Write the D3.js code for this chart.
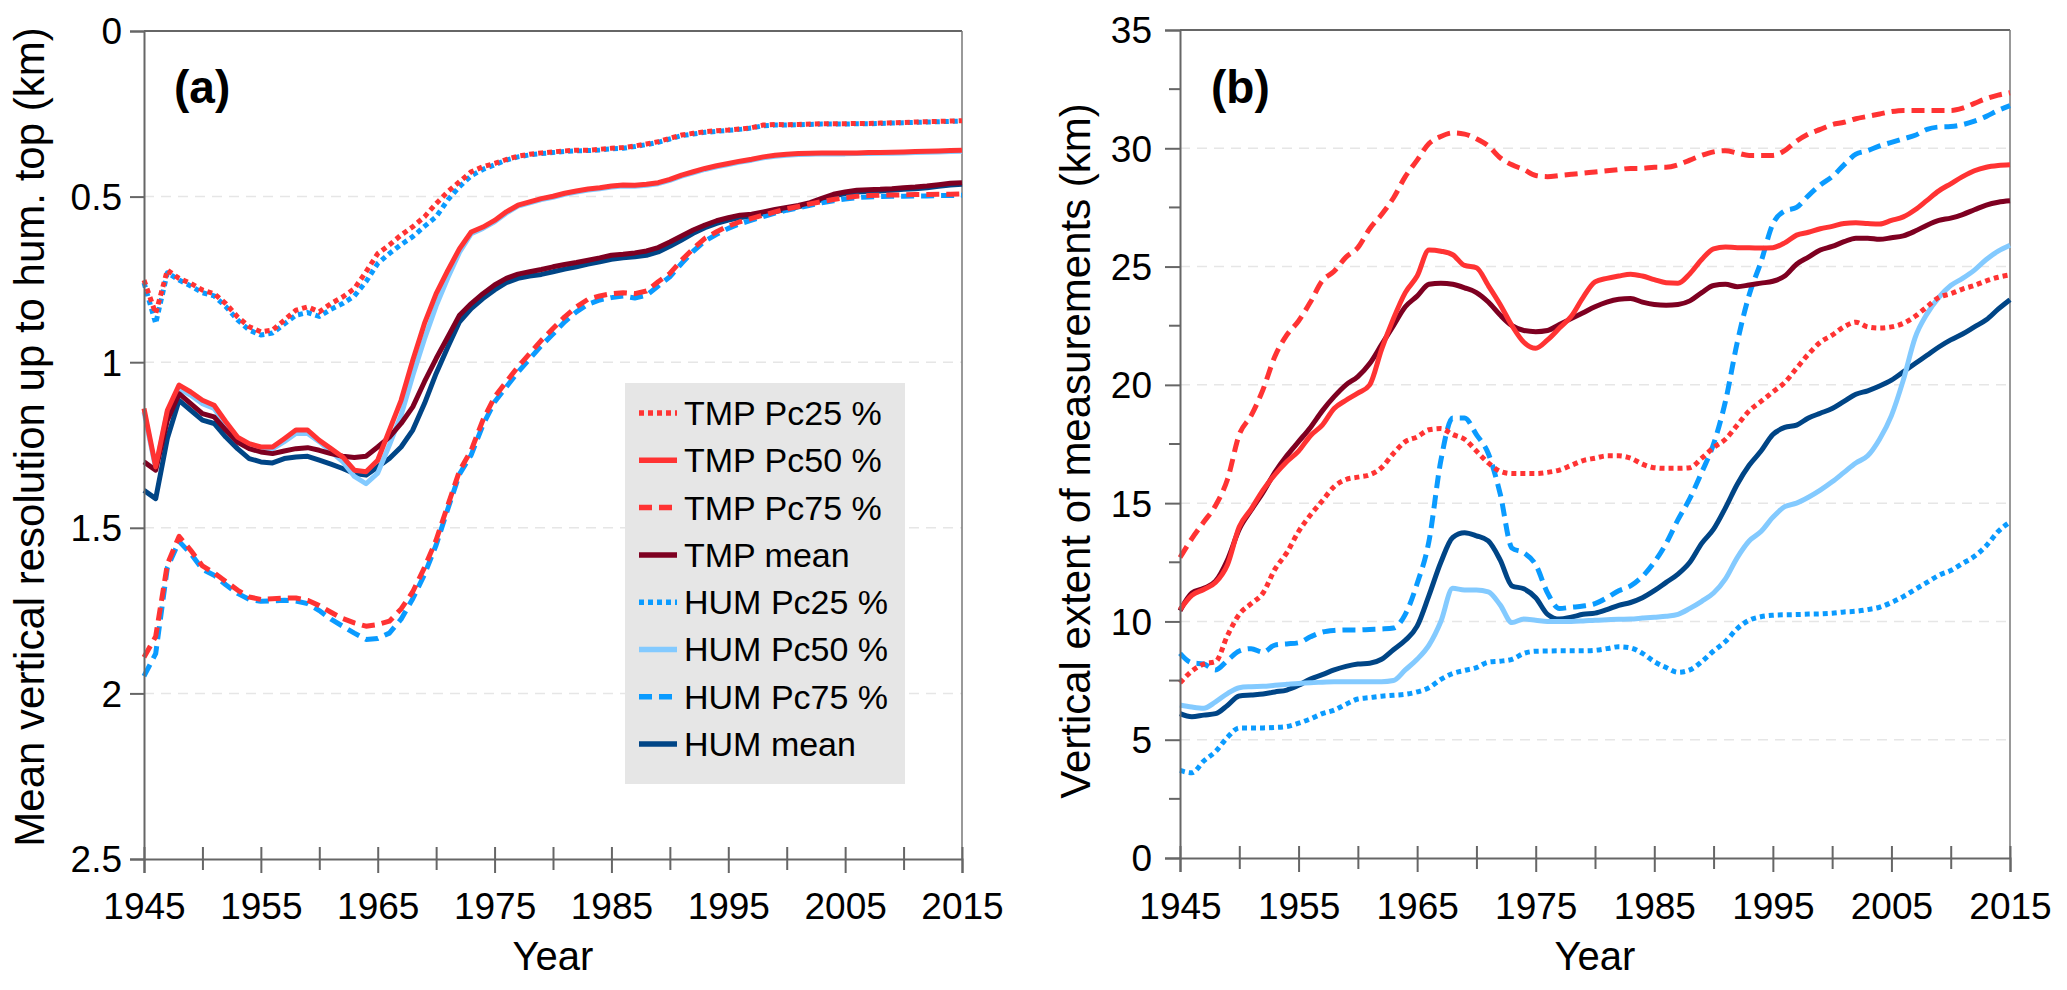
<!DOCTYPE html>
<html><head><meta charset="utf-8">
<script src="https://cdn.jsdelivr.net/npm/d3@7/dist/d3.min.js"></script>
<style>
body{margin:0;background:#fff}
text{font-family:"Liberation Sans",Arial,Helvetica,sans-serif;fill:#000}
</style>
</head><body>
<svg id="c" width="2067" height="990"></svg>
<script>
// ---------- DATA ----------
const years = d3.range(1945, 2016);
const xTickYears = [1945,1950,1955,1960,1965,1970,1975,1980,1985,1990,1995,2000,2005,2010,2015];
const xLabelYears = [1945,1955,1965,1975,1985,1995,2005,2015];
const yTicksA = [0,0.5,1,1.5,2,2.5];
const yTicksB = [0,5,10,15,20,25,30,35];
const yMinorB = [2.5,7.5,12.5,17.5,22.5,27.5,32.5];

const seriesNames = ["TMP Pc25 %","TMP Pc50 %","TMP Pc75 %","TMP mean","HUM Pc25 %","HUM Pc50 %","HUM Pc75 %","HUM mean"];

// Panel (a): mean vertical resolution (km)
const aTmpPc25 = [0.752,0.853,0.722,0.747,0.762,0.782,0.793,0.823,0.863,0.893,
 0.908,0.903,0.873,0.843,0.833,0.848,0.823,0.803,0.778,0.727,
 0.672,0.646,0.616,0.591,0.561,0.521,0.485,0.455,0.425,0.410,
 0.400,0.388,0.378,0.372,0.368,0.365,0.362,0.360,0.360,0.357,
 0.354,0.352,0.347,0.341,0.334,0.324,0.314,0.309,0.304,0.301,
 0.299,0.296,0.292,0.284,0.282,0.283,0.282,0.281,0.280,0.280,
 0.280,0.279,0.279,0.278,0.277,0.276,0.275,0.274,0.273,0.272,0.271];
const aTmpPc50 = [1.140,1.316,1.145,1.069,1.090,1.115,1.130,1.180,1.226,1.246,
 1.256,1.256,1.231,1.205,1.205,1.236,1.261,1.286,1.326,1.331,
 1.296,1.205,1.115,0.994,0.883,0.793,0.723,0.657,0.607,0.592,
 0.572,0.546,0.526,0.516,0.506,0.499,0.490,0.483,0.477,0.473,
 0.468,0.465,0.466,0.463,0.458,0.448,0.435,0.425,0.415,0.407,
 0.400,0.393,0.387,0.380,0.375,0.372,0.370,0.369,0.368,0.368,
 0.368,0.368,0.367,0.367,0.366,0.365,0.364,0.363,0.362,0.361,0.360];
const aTmpPc75 = [1.891,1.828,1.610,1.526,1.568,1.615,1.636,1.662,1.688,1.709,
 1.716,1.714,1.712,1.712,1.719,1.735,1.755,1.774,1.787,1.797,
 1.792,1.782,1.745,1.693,1.620,1.537,1.432,1.328,1.266,1.175,
 1.105,1.059,1.014,0.974,0.934,0.898,0.863,0.833,0.810,0.800,
 0.793,0.790,0.793,0.785,0.757,0.732,0.692,0.657,0.626,0.606,
 0.589,0.576,0.566,0.556,0.546,0.537,0.530,0.522,0.515,0.509,
 0.503,0.499,0.497,0.496,0.495,0.495,0.494,0.494,0.493,0.493,0.492];
const aTmpMean = [1.301,1.326,1.175,1.095,1.125,1.155,1.165,1.205,1.241,1.261,
 1.271,1.276,1.268,1.261,1.258,1.266,1.276,1.284,1.288,1.284,
 1.256,1.226,1.185,1.135,1.059,0.989,0.924,0.858,0.823,0.793,
 0.767,0.747,0.734,0.727,0.720,0.712,0.705,0.699,0.692,0.685,
 0.677,0.674,0.670,0.664,0.654,0.637,0.619,0.601,0.586,0.573,
 0.564,0.556,0.553,0.546,0.539,0.533,0.527,0.518,0.505,0.493,
 0.486,0.481,0.479,0.478,0.476,0.473,0.471,0.468,0.464,0.460,0.458];
const aHumPc25 = [0.760,0.883,0.730,0.752,0.770,0.790,0.800,0.832,0.872,0.903,
 0.918,0.912,0.885,0.858,0.850,0.862,0.840,0.823,0.800,0.757,
 0.702,0.672,0.645,0.621,0.590,0.561,0.510,0.470,0.437,0.418,
 0.404,0.390,0.380,0.374,0.370,0.367,0.364,0.362,0.361,0.359,
 0.356,0.354,0.349,0.343,0.336,0.326,0.316,0.311,0.306,0.303,
 0.300,0.297,0.293,0.286,0.284,0.284,0.283,0.282,0.281,0.281,
 0.281,0.280,0.280,0.279,0.278,0.277,0.276,0.275,0.274,0.273,0.272];
const aHumPc50 = [1.150,1.320,1.150,1.080,1.100,1.125,1.140,1.188,1.232,1.252,
 1.262,1.262,1.240,1.215,1.215,1.240,1.270,1.300,1.345,1.367,
 1.335,1.250,1.160,1.040,0.930,0.830,0.745,0.668,0.612,0.596,
 0.576,0.550,0.529,0.519,0.509,0.502,0.493,0.486,0.480,0.476,
 0.471,0.468,0.469,0.466,0.461,0.451,0.438,0.428,0.418,0.410,
 0.403,0.396,0.390,0.383,0.378,0.375,0.373,0.372,0.371,0.371,
 0.371,0.370,0.370,0.369,0.369,0.368,0.367,0.366,0.365,0.364,0.363];
const aHumPc75 = [1.948,1.880,1.620,1.541,1.578,1.625,1.643,1.672,1.698,1.716,
 1.722,1.721,1.719,1.721,1.729,1.750,1.776,1.797,1.818,1.837,
 1.834,1.818,1.776,1.714,1.641,1.552,1.443,1.338,1.280,1.190,
 1.120,1.075,1.030,0.990,0.950,0.915,0.878,0.848,0.825,0.812,
 0.805,0.800,0.806,0.798,0.770,0.742,0.702,0.665,0.634,0.614,
 0.596,0.582,0.571,0.560,0.550,0.541,0.534,0.526,0.519,0.513,
 0.507,0.503,0.501,0.500,0.499,0.499,0.498,0.498,0.497,0.497,0.496];
const aHumMean = [1.387,1.412,1.230,1.115,1.145,1.175,1.185,1.226,1.261,1.291,
 1.301,1.304,1.291,1.286,1.284,1.296,1.308,1.321,1.336,1.341,
 1.316,1.291,1.256,1.205,1.125,1.034,0.954,0.878,0.838,0.808,
 0.782,0.760,0.747,0.740,0.735,0.727,0.719,0.712,0.704,0.697,
 0.689,0.685,0.682,0.677,0.667,0.650,0.631,0.611,0.594,0.581,
 0.571,0.563,0.559,0.551,0.546,0.538,0.531,0.522,0.509,0.498,
 0.491,0.486,0.484,0.483,0.481,0.478,0.476,0.473,0.469,0.465,0.463];

// Panel (b): vertical extent of measurements (km)
const bTmpPc25 = [7.4,7.9,8.2,8.3,9.4,10.3,10.75,11.2,12.2,12.9,
 13.8,14.5,15.1,15.7,16.0,16.1,16.2,16.5,17.1,17.6,
 17.8,18.1,18.15,17.9,17.7,17.2,16.7,16.35,16.25,16.25,
 16.25,16.3,16.4,16.6,16.8,16.9,17.0,17.0,16.9,16.65,
 16.5,16.47,16.47,16.5,16.9,17.35,17.7,18.3,18.9,19.3,
 19.7,20.1,20.7,21.3,21.8,22.1,22.45,22.65,22.45,22.4,
 22.45,22.6,22.9,23.3,23.7,23.85,24.05,24.2,24.4,24.55,24.65];
const bTmpPc50 = [10.5,11.1,11.35,11.65,12.4,14.0,14.75,15.55,16.2,16.75,
 17.2,17.85,18.3,19.0,19.35,19.65,20.0,21.5,22.8,23.9,
 24.6,25.7,25.65,25.5,25.05,24.95,24.2,23.4,22.5,21.8,
 21.55,21.9,22.4,22.9,23.7,24.35,24.5,24.6,24.68,24.6,
 24.45,24.32,24.3,24.7,25.3,25.75,25.83,25.8,25.8,25.78,
 25.8,26.0,26.33,26.45,26.6,26.7,26.82,26.85,26.82,26.8,
 26.95,27.1,27.4,27.8,28.2,28.5,28.8,29.05,29.2,29.27,29.3];
const bTmpPc75 = [12.7,13.5,14.2,14.9,16.0,17.9,18.7,19.8,21.2,22.1,
 22.7,23.5,24.4,24.8,25.4,25.8,26.6,27.2,27.9,28.8,
 29.5,30.2,30.5,30.65,30.6,30.4,30.1,29.6,29.3,29.1,
 28.85,28.8,28.85,28.9,28.95,29.0,29.05,29.1,29.15,29.15,
 29.2,29.2,29.3,29.5,29.7,29.85,29.9,29.8,29.7,29.7,
 29.7,29.9,30.3,30.6,30.8,31.0,31.1,31.25,31.35,31.45,
 31.55,31.6,31.6,31.6,31.6,31.6,31.7,31.9,32.1,32.25,32.35];
const bTmpMean = [10.45,11.2,11.4,11.7,12.6,13.9,14.7,15.45,16.3,17.0,
 17.6,18.2,18.9,19.5,20.0,20.35,20.9,21.7,22.5,23.3,
 23.75,24.25,24.3,24.25,24.1,23.9,23.5,22.95,22.5,22.3,
 22.25,22.3,22.55,22.8,23.05,23.3,23.5,23.62,23.65,23.5,
 23.4,23.37,23.4,23.55,23.9,24.2,24.25,24.15,24.22,24.3,
 24.38,24.6,25.1,25.4,25.7,25.85,26.05,26.2,26.2,26.15,
 26.22,26.3,26.5,26.75,26.95,27.05,27.2,27.4,27.6,27.72,27.78];
const bHumPc25 = [3.7,3.6,4.1,4.5,5.1,5.5,5.5,5.5,5.52,5.56,
 5.7,5.88,6.1,6.25,6.5,6.72,6.78,6.84,6.88,6.92,
 7.02,7.2,7.55,7.8,7.93,8.05,8.28,8.32,8.4,8.65,
 8.74,8.75,8.76,8.76,8.76,8.78,8.85,8.93,8.88,8.65,
 8.3,8.05,7.85,7.95,8.3,8.75,9.15,9.7,10.05,10.2,
 10.26,10.28,10.29,10.31,10.32,10.35,10.4,10.43,10.5,10.6,
 10.8,11.05,11.35,11.65,11.95,12.15,12.45,12.75,13.2,13.8,14.2];
const bHumPc50 = [6.47,6.38,6.33,6.6,6.95,7.2,7.24,7.26,7.3,7.34,
 7.38,7.41,7.43,7.45,7.45,7.45,7.45,7.45,7.5,7.95,
 8.4,9.0,10.0,11.4,11.33,11.33,11.25,10.7,9.95,10.1,
 10.05,10.0,10.0,10.0,10.02,10.05,10.07,10.09,10.1,10.14,
 10.18,10.22,10.3,10.55,10.85,11.2,11.8,12.7,13.4,13.8,
 14.4,14.85,15.0,15.25,15.55,15.9,16.3,16.7,17.0,17.7,
 18.7,20.2,22.0,23.0,23.7,24.2,24.5,24.85,25.3,25.65,25.9];
const bHumPc75 = [8.65,8.25,8.2,7.95,8.35,8.75,8.85,8.7,9.0,9.05,
 9.1,9.35,9.55,9.62,9.64,9.64,9.66,9.68,9.72,10.3,
 11.6,13.4,16.8,18.6,18.6,17.9,17.1,15.4,13.1,12.9,
 12.4,11.2,10.55,10.6,10.65,10.75,11.0,11.3,11.5,11.9,
 12.5,13.3,14.3,15.2,16.3,17.5,19.3,21.8,23.8,25.2,
 26.8,27.35,27.5,28.0,28.45,28.8,29.3,29.75,29.9,30.1,
 30.25,30.4,30.55,30.8,30.9,30.92,31.0,31.15,31.35,31.6,31.8];
const bHumMean = [6.1,5.97,6.04,6.1,6.45,6.85,6.89,6.93,7.02,7.1,
 7.3,7.57,7.75,7.95,8.1,8.2,8.23,8.4,8.8,9.2,
 9.8,11.1,12.5,13.55,13.75,13.62,13.4,12.6,11.5,11.38,
 11.0,10.3,10.1,10.18,10.3,10.35,10.5,10.68,10.8,11.0,
 11.3,11.65,12.0,12.5,13.3,13.9,14.8,15.8,16.6,17.2,
 17.9,18.2,18.3,18.6,18.8,19.0,19.3,19.6,19.75,19.95,
 20.2,20.55,20.9,21.25,21.6,21.9,22.15,22.45,22.75,23.2,23.6];

// ---------- STYLE ----------
const colors = ["#ff3333","#ff3333","#ff3333","#7e0021","#0a9bff","#83caff","#0a9bff","#004586"];
const dashes = ["5,4", null, "13,7", null, "5,4", null, "13,7", null];
const drawOrder = [7,6,5,4,3,2,1,0];
const FONT_TICK = 37;

const svg = d3.select("#c");
svg.append("rect").attr("width",2067).attr("height",990).attr("fill","#fff");

function panel(cfg) {
  const x = d3.scaleLinear().domain([1945, 2015]).range([cfg.x0, cfg.x1]);
  const y = d3.scaleLinear().domain(cfg.ydom).range(cfg.yrange);
  const yTop = Math.min(...cfg.yrange), yBot = Math.max(...cfg.yrange);
  const g = svg.append("g");

  // grid
  g.append("g").selectAll("line").data(cfg.grid).join("line")
    .attr("x1", cfg.x0).attr("x2", cfg.x1)
    .attr("y1", d => y(d)).attr("y2", d => y(d))
    .attr("stroke", "#e6e6e6").attr("stroke-width", 1.5).attr("stroke-dasharray", "10,7");

  // frame top & right
  g.append("line").attr("x1", cfg.x0).attr("x2", cfg.x1).attr("y1", yTop).attr("y2", yTop)
    .attr("stroke", "#666").attr("stroke-width", 2);
  g.append("line").attr("x1", cfg.x1).attr("x2", cfg.x1).attr("y1", yTop).attr("y2", yBot)
    .attr("stroke", "#777").attr("stroke-width", 1.5);

  // series lines
  const line = d3.line().x((d, i) => x(years[i])).y(d => y(d)).curve(cfg.curve);
  drawOrder.forEach(k => {
    const p = g.append("path").datum(cfg.series[k])
      .attr("d", line).attr("fill", "none")
      .attr("stroke", colors[k]).attr("stroke-width", 5)
      .attr("stroke-linejoin", "round");
    if (dashes[k]) p.attr("stroke-dasharray", dashes[k]);
  });

  // x axis
  const xa = g.append("g").attr("transform", `translate(0,${yBot})`)
    .call(d3.axisBottom(x).tickValues(xTickYears).tickSizeOuter(0).tickSize(14)
      .tickFormat(d => xLabelYears.includes(d) ? String(d) : ""));
  xa.select(".domain").attr("stroke", "#666").attr("stroke-width", 2);
  xa.selectAll(".tick line").attr("stroke", "#666").attr("stroke-width", 2)
    .attr("y1", -12).attr("y2", d => xLabelYears.includes(d) ? 14 : 11);
  xa.selectAll(".tick text").attr("y", cfg.xLabelOffset).attr("dy", null)
    .style("font-size", FONT_TICK + "px").style("font-family", '"Liberation Sans",Arial,sans-serif').attr("fill", "#000");

  // y axis
  const ya = g.append("g").attr("transform", `translate(${cfg.x0},0)`)
    .call(d3.axisLeft(y).tickValues(cfg.yticks).tickSizeOuter(0).tickSize(cfg.yTickLen)
      .tickPadding(cfg.yPad).tickFormat(d => String(d)));
  ya.select(".domain").attr("stroke", "#666").attr("stroke-width", 2);
  ya.selectAll(".tick line").attr("stroke", "#666").attr("stroke-width", 2);
  ya.selectAll(".tick text").attr("dy", "0.35em")
    .style("font-size", FONT_TICK + "px").style("font-family", '"Liberation Sans",Arial,sans-serif').attr("fill", "#000");
  if (cfg.yminor) {
    g.append("g").selectAll("line").data(cfg.yminor).join("line")
      .attr("x1", cfg.x0 - 11).attr("x2", cfg.x0)
      .attr("y1", d => y(d)).attr("y2", d => y(d))
      .attr("stroke", "#666").attr("stroke-width", 2);
  }

  // axis titles
  g.append("text").attr("x", (cfg.x0 + cfg.x1) / 2).attr("y", 970)
    .attr("text-anchor", "middle").style("font-size", "40px").text("Year");
  g.append("text")
    .attr("transform", `translate(${cfg.yTitleX},${cfg.yTitleY}) rotate(-90)`)
    .attr("text-anchor", "middle").style("font-size", "42px").text(cfg.yTitle);

  // panel tag
  g.append("text").attr("x", cfg.tagX).attr("y", 103)
    .style("font-size", "46px").style("font-weight", "bold").text(cfg.tag);
  return g;
}

panel({
  x0: 144, x1: 962, ydom: [0, 2.5], yrange: [31, 859],
  grid: [0.5, 1, 1.5, 2], yticks: yTicksA, yTickLen: 14, yPad: 8,
  xLabelOffset: 60, curve: d3.curveLinear,
  series: [aTmpPc25, aTmpPc50, aTmpPc75, aTmpMean, aHumPc25, aHumPc50, aHumPc75, aHumMean],
  yTitle: "Mean vertical resolution up to hum. top (km)", yTitleX: 44, yTitleY: 437,
  tag: "(a)", tagX: 174
});

panel({
  x0: 1180, x1: 2010, ydom: [0, 35], yrange: [858, 30],
  grid: [5, 10, 15, 20, 25, 30], yticks: yTicksB, yminor: yMinorB, yTickLen: 15, yPad: 13,
  xLabelOffset: 61, curve: d3.curveMonotoneX,
  series: [bTmpPc25, bTmpPc50, bTmpPc75, bTmpMean, bHumPc25, bHumPc50, bHumPc75, bHumMean],
  yTitle: "Vertical extent of measurements (km)", yTitleX: 1090, yTitleY: 451,
  tag: "(b)", tagX: 1211
});

// ---------- LEGEND (panel a) ----------
const leg = svg.append("g");
leg.append("rect").attr("x", 625).attr("y", 383).attr("width", 280).attr("height", 401).attr("fill", "#e6e6e6");
const rowY = i => 413 + i * 47.3;
seriesNames.forEach((name, i) => {
  const l = leg.append("line").attr("x1", 639).attr("x2", 677).attr("y1", rowY(i)).attr("y2", rowY(i))
    .attr("stroke", colors[i]).attr("stroke-width", 5.5);
  if (dashes[i]) l.attr("stroke-dasharray", dashes[i]);
  leg.append("text").attr("x", 684).attr("y", rowY(i)).attr("dy", "0.35em")
    .style("font-size", "34px").text(name);
});
</script>
</body></html>
